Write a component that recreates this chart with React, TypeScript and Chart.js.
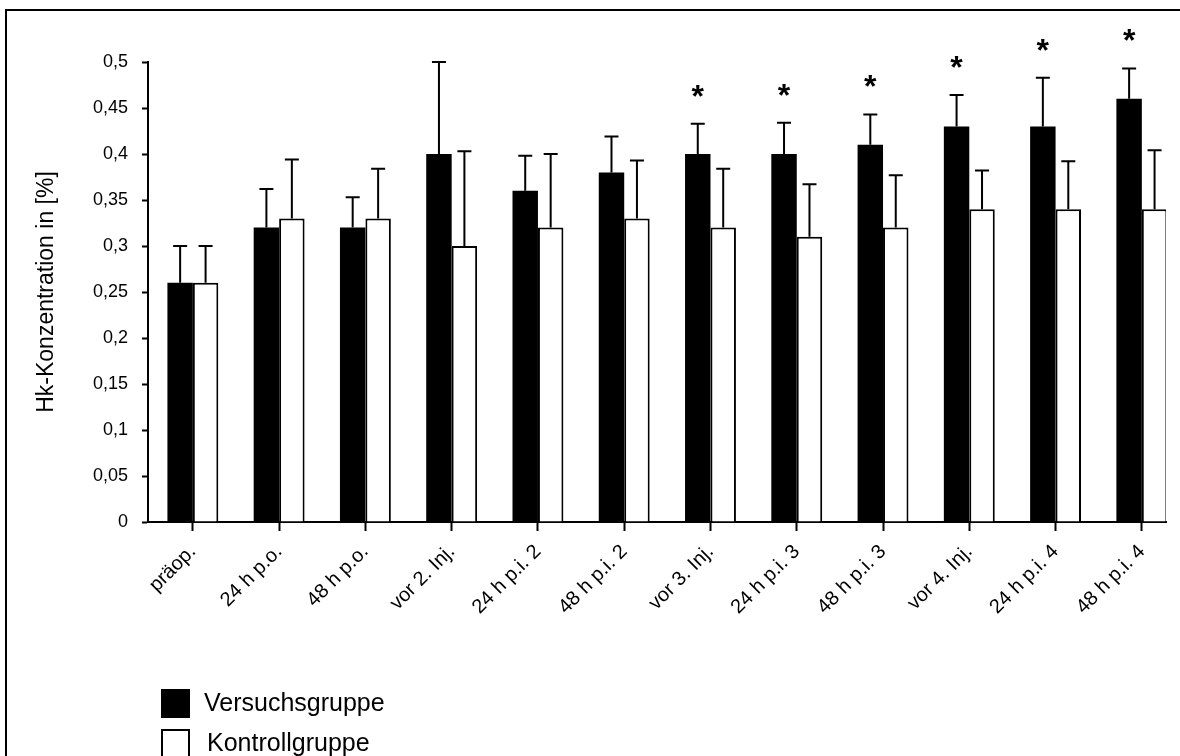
import React, { useEffect, useRef } from 'react';
import { Chart, registerables } from 'chart.js';

Chart.register(...registerables);

const categories = [
  'präop.', '24 h p.o.', '48 h p.o.', 'vor 2. Inj.', '24 h p.i. 2', '48 h p.i. 2',
  'vor 3. Inj.', '24 h p.i. 3', '48 h p.i. 3', 'vor 4. Inj.', '24 h p.i. 4', '48 h p.i. 4',
];
const versuchMeans = [0.26, 0.32, 0.32, 0.40, 0.36, 0.38, 0.40, 0.40, 0.41, 0.43, 0.43, 0.46];
const versuchErrors = [0.04, 0.042, 0.033, 0.10, 0.038, 0.039, 0.033, 0.034, 0.033, 0.034, 0.053, 0.033];
const kontrollMeans = [0.26, 0.33, 0.33, 0.30, 0.32, 0.33, 0.32, 0.31, 0.32, 0.34, 0.34, 0.34];
const kontrollErrors = [0.04, 0.064, 0.054, 0.103, 0.08, 0.063, 0.064, 0.057, 0.057, 0.042, 0.052, 0.064];
const significant = [false, false, false, false, false, false, true, true, true, true, true, true];
const seriesLabels = ['Versuchsgruppe', 'Kontrollgruppe'];
const yAxisTitle = 'Hk-Konzentration in [%]';

const FONT = "'Liberation Sans', Arial, sans-serif";

const errorBarPlugin = {
  id: 'errorBars',
  afterDatasetsDraw(chart: any) {
    const ctx = chart.ctx;
    const yScale = chart.scales.y;
    ctx.save();
    ctx.strokeStyle = '#000';
    ctx.lineWidth = 2;
    chart.data.datasets.forEach((ds: any, di: number) => {
      const meta = chart.getDatasetMeta(di);
      meta.data.forEach((bar: any, i: number) => {
        const mean = ds.means[i];
        const err = ds.errors[i];
        const yBase = yScale.getPixelForValue(mean);
        const yTop = yScale.getPixelForValue(mean + err);
        ctx.beginPath();
        ctx.moveTo(bar.x, yBase);
        ctx.lineTo(bar.x, yTop);
        ctx.moveTo(bar.x - 7, yTop);
        ctx.lineTo(bar.x + 7, yTop);
        ctx.stroke();
        if (ds.stars && ds.stars[i]) {
          ctx.fillStyle = '#000';
          ctx.font = `bold 32px ${FONT}`;
          ctx.textAlign = 'center';
          ctx.textBaseline = 'alphabetic';
          ctx.fillText('*', bar.x, yTop - 17);
        }
      });
    });
    ctx.restore();
  },
};

const framePlugin = {
  id: 'frameAndLegend',
  afterDraw(chart: any) {
    const ctx = chart.ctx;
    ctx.save();
    ctx.strokeStyle = '#000';
    ctx.lineWidth = 2;
    ctx.strokeRect(6, 10, 2000, 2000);
    const items = chart.data.datasets;
    ctx.font = `25px ${FONT}`;
    ctx.textAlign = 'left';
    ctx.textBaseline = 'middle';
    items.forEach((ds: any, i: number) => {
      const bx = 161;
      const by = 689 + i * 40;
      ctx.fillStyle = ds.backgroundColor;
      ctx.fillRect(bx, by, 29, 29);
      if (ds.borderWidth) {
        ctx.lineWidth = 2;
        ctx.strokeStyle = ds.borderColor;
        ctx.strokeRect(bx + 1, by + 1, 27, 27);
      }
      ctx.fillStyle = '#000';
      ctx.fillText(ds.label, 204 + i * 3, by + 15);
    });
    ctx.restore();
  },
};

export default function App() {
  const ref = useRef<HTMLCanvasElement | null>(null);
  useEffect(() => {
    if (!ref.current) return;
    const chart = new Chart(ref.current, {
      type: 'bar',
      data: {
        datasets: [
          {
            label: seriesLabels[0],
            data: categories.map((_, i) => ({ x: i, y: versuchMeans[i] })),
            backgroundColor: '#000000',
            borderWidth: 0,
            means: versuchMeans,
            errors: versuchErrors,
            stars: significant,
          } as any,
          {
            label: seriesLabels[1],
            data: categories.map((_, i) => ({ x: i, y: kontrollMeans[i] })),
            backgroundColor: '#ffffff',
            borderColor: '#000000',
            borderWidth: 2,
            means: kontrollMeans,
            errors: kontrollErrors,
          } as any,
        ],
      },
      options: {
        animation: false,
        responsive: true,
        maintainAspectRatio: false,
        categoryPercentage: 0.59,
        barPercentage: 1,
        layout: { padding: { top: 62, right: 14, left: 0, bottom: 0 } },
        plugins: {
          legend: { display: false },
          tooltip: { enabled: false },
        },
        scales: {
          x: {
            type: 'linear',
            offset: false,
            min: -0.52,
            max: 11.28,
            afterBuildTicks: (scale: any) => {
              scale.ticks = categories.map((_, i) => ({ value: i }));
            },
            afterFit: (scale: any) => {
              scale.height = 234;
            },
            grid: {
              offset: false,
              drawOnChartArea: false,
              drawTicks: true,
              tickLength: 9,
              tickWidth: 2,
              color: '#000',
            },
            border: { display: true, color: '#000', width: 2 },
            ticks: {
              autoSkip: false,
              maxRotation: 45,
              minRotation: 45,
              padding: 9,
              color: '#000',
              font: { family: FONT, size: 20 },
              callback: (v: any) => categories[Math.round(Number(v))] ?? '',
            },
          },
          y: {
            min: 0,
            max: 0.5,
            afterFit: (scale: any) => {
              scale.width = 148;
            },
            grid: {
              drawOnChartArea: false,
              drawTicks: true,
              tickLength: 6,
              tickWidth: 2,
              color: '#000',
            },
            border: { display: true, color: '#000', width: 2 },
            ticks: {
              stepSize: 0.05,
              padding: 14,
              color: '#000',
              font: { family: FONT, size: 18 },
              callback: (v: any) => String(Math.round(Number(v) * 100) / 100).replace('.', ','),
            },
            title: {
              display: true,
              text: yAxisTitle,
              color: '#000',
              font: { family: FONT, size: 23 },
              padding: { top: 33, bottom: 0 },
            },
          },
        },
      } as any,
      plugins: [errorBarPlugin, framePlugin],
    });
    return () => chart.destroy();
  }, []);

  return (
    <div style={{ position: 'fixed', left: 0, top: 0, width: 1180, height: 756, background: '#fff' }}>
      <canvas ref={ref} />
    </div>
  );
}
